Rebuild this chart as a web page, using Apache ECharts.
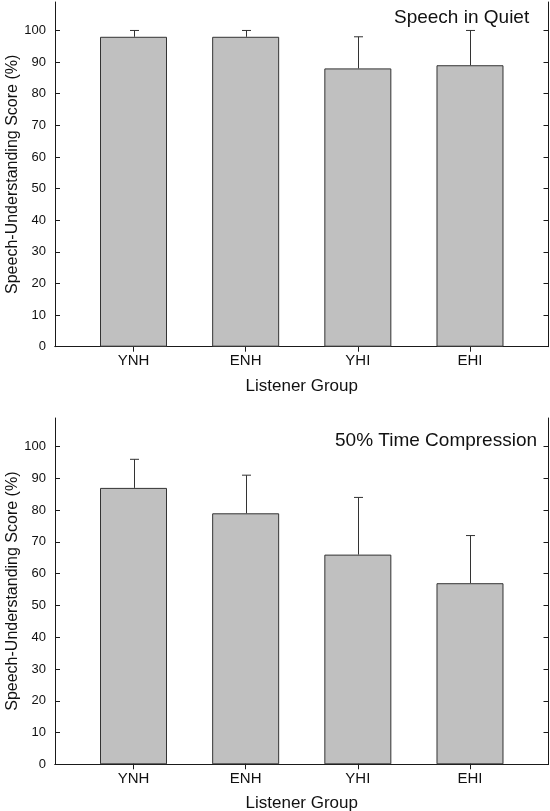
<!DOCTYPE html>
<html>
<head>
<meta charset="utf-8">
<script src="https://cdn.jsdelivr.net/npm/echarts@6/dist/echarts.min.js"></script>
<style>
html,body{margin:0;padding:0;background:#fff;}
#chart{width:550px;height:811px;}
</style>
</head>
<body>
<div id="chart"></div>
<script>
const categories = ['YNH', 'ENH', 'YHI', 'EHI'];
const quietMeans = [98, 98, 88, 89];
const quietUpper = [100, 100, 98, 100];
const compMeans = [87, 79, 66, 57];
const compUpper = [96, 91, 84, 72];
const yTicks = [0, 10, 20, 30, 40, 50, 60, 70, 80, 90, 100];
const panelTitles = ['Speech in Quiet', '50% Time Compression'];
const xAxisName = 'Listener Group';
const yAxisName = 'Speech-Understanding Score (%)';

const positions = categories.map((c, i) => i + 1);
const FONT = '"Liberation Sans", Arial, sans-serif';
const AX = '#1a1a1a';

const chart = echarts.init(document.getElementById('chart'), null, {renderer: 'canvas'});

const grids = [
  {left: 55, right: 1.5, top: 2, bottom: 464.3, containLabel: false, outerBoundsMode: 'none'},
  {left: 55, right: 1.5, top: 418, bottom: 46.7, containLabel: false, outerBoundsMode: 'none'}
];

function xAxes(gi) {
  return [
    {
      gridIndex: gi, type: 'value', position: 'bottom', min: 0.3, max: 4.7,
      name: xAxisName, nameLocation: 'middle', nameGap: 31, nameMoveOverlap: false,
      nameTextStyle: {fontFamily: FONT, fontSize: 17, color: '#111'},
      axisLine: {show: true, lineStyle: {color: AX, width: 1}},
      axisTick: {show: true, inside: true, length: 5, customValues: positions, lineStyle: {color: AX}},
      axisLabel: {show: true, customValues: positions, margin: 7, fontFamily: FONT, fontSize: 15, color: '#111',
        formatter: v => categories[Math.round(v) - 1] || ''},
      splitLine: {show: false}
    },
    {
      gridIndex: gi, type: 'value', position: 'top', min: 0.3, max: 4.7,
      axisLine: {show: true, lineStyle: {color: AX, width: 1}},
      axisTick: {show: true, inside: true, length: 5, customValues: positions, lineStyle: {color: AX}},
      axisLabel: {show: false},
      splitLine: {show: false}
    }
  ];
}

function yAxes(gi) {
  return [
    {
      gridIndex: gi, type: 'value', position: 'left', min: 0, max: 109,
      name: yAxisName, nameLocation: 'middle', nameGap: 34, nameRotate: 90, nameMoveOverlap: false,
      nameTextStyle: {fontFamily: FONT, fontSize: 16, color: '#111'},
      axisLine: {show: true, lineStyle: {color: AX, width: 1}},
      axisTick: {show: true, inside: true, length: 5, customValues: yTicks, lineStyle: {color: AX}},
      axisLabel: {show: true, customValues: yTicks, margin: 9, fontFamily: FONT, fontSize: 13, color: '#111'},
      splitLine: {show: false}
    },
    {
      gridIndex: gi, type: 'value', position: 'right', min: 0, max: 109,
      axisLine: {show: true, lineStyle: {color: AX, width: 1}},
      axisTick: {show: true, inside: true, length: 5, customValues: yTicks, lineStyle: {color: AX}},
      axisLabel: {show: false},
      splitLine: {show: false}
    }
  ];
}

function barSeries(gi, means) {
  return {
    type: 'bar', xAxisIndex: gi * 2, yAxisIndex: gi * 2, barWidth: 67,
    data: means.map((m, i) => [positions[i], m]),
    itemStyle: {color: '#c0c0c0', borderColor: '#333', borderWidth: 1},
    z: 2
  };
}

function errSeries(gi, means, upper) {
  return {
    type: 'custom', xAxisIndex: gi * 2, yAxisIndex: gi * 2, z: 3,
    data: means.map((m, i) => [positions[i], m, upper[i]]),
    renderItem: function (params, api) {
      const p0 = api.coord([api.value(0), api.value(1)]);
      const p1 = api.coord([api.value(0), api.value(2)]);
      const x = Math.round(p0[0]) + 0.5;
      const cap = 4.5;
      const style = {stroke: '#333', lineWidth: 1};
      return {
        type: 'group',
        children: [
          {type: 'line', shape: {x1: x, y1: p0[1], x2: x, y2: p1[1]}, style: style},
          {type: 'line', shape: {x1: x - cap, y1: p1[1], x2: x + cap, y2: p1[1]}, style: style}
        ]
      };
    }
  };
}

const option = {
  backgroundColor: '#fff',
  animation: false,
  grid: grids,
  xAxis: [...xAxes(0), ...xAxes(1)],
  yAxis: [...yAxes(0), ...yAxes(1)],
  series: [
    barSeries(0, quietMeans), errSeries(0, quietMeans, quietUpper),
    barSeries(1, compMeans), errSeries(1, compMeans, compUpper)
  ],
  graphic: [
    {type: 'text', left: 394, top: 8, style: {text: panelTitles[0], fontFamily: FONT, fontSize: 19, fill: '#111'}},
    {type: 'text', left: 335, top: 431, style: {text: panelTitles[1], fontFamily: FONT, fontSize: 19, fill: '#111'}}
  ]
};
chart.setOption(option);
</script>
</body>
</html>
